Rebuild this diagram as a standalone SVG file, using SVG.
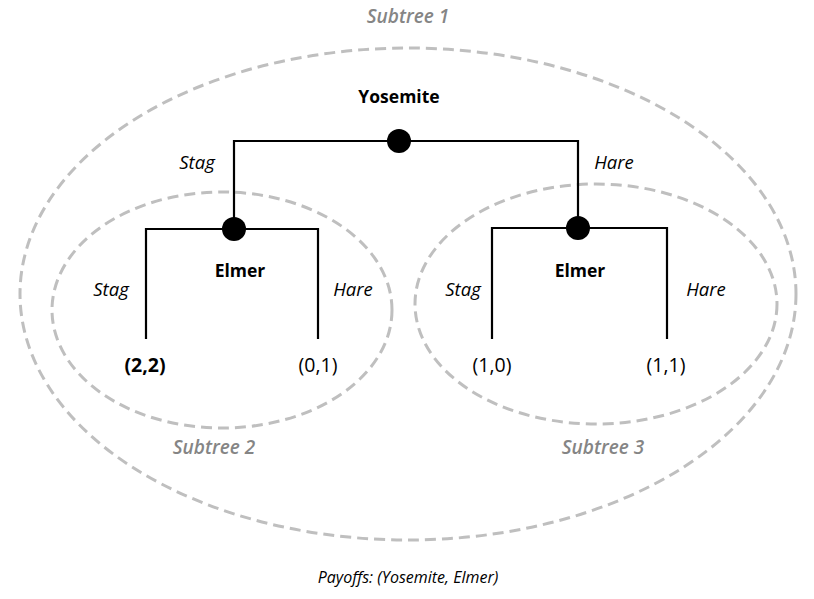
<svg xmlns="http://www.w3.org/2000/svg" width="814" height="599" viewBox="0 0 814 599">
<style>
.sub{fill:none;stroke:#bfbfbf;stroke-width:3;stroke-dasharray:11 6}
.edge{fill:none;stroke:#000;stroke-width:2.2}
.dot{fill:#000}
text{font-family:"Open Sans","Liberation Sans",sans-serif;text-anchor:middle}
.lbl{font-size:18.5px;font-style:italic;fill:#000}
.sublbl{font-size:19px;font-style:italic;font-weight:600;fill:#858585}
.player{font-size:17.5px;font-weight:bold;fill:#000}
.pay{font-size:19.5px;fill:#000}
.note{font-size:16px;font-style:italic;fill:#000}
</style>
<rect width="814" height="599" fill="#fff"/>
<g id="subtrees">
<ellipse id="subtree1" class="sub" cx="408" cy="294" rx="388" ry="246"/>
<ellipse id="subtree2" class="sub" cx="222" cy="310" rx="170" ry="118"/>
<ellipse id="subtree3" class="sub" cx="596" cy="304" rx="181" ry="120"/>
</g>
<g id="connectors">
<path class="edge" d="M234,229 V141 H578 V229"/>
<path class="edge" d="M146,339 V229 H318 V339"/>
<path class="edge" d="M492,339 V228 H667 V339"/>
</g>
<g id="node-yosemite">
<circle class="dot" cx="399" cy="141" r="12"/>
<text class="player" x="399" y="103">Yosemite</text>
</g>
<g id="node-elmer-left">
<circle class="dot" cx="234" cy="229" r="12"/>
<text class="player" x="240" y="277">Elmer</text>
</g>
<g id="node-elmer-right">
<circle class="dot" cx="578" cy="228" r="12"/>
<text class="player" x="580" y="277">Elmer</text>
</g>
<g id="edge-labels">
<text class="lbl" x="197" y="169">Stag</text>
<text class="lbl" x="614" y="169">Hare</text>
<text class="lbl" x="111" y="296">Stag</text>
<text class="lbl" x="353" y="296">Hare</text>
<text class="lbl" x="463" y="296">Stag</text>
<text class="lbl" x="706" y="296">Hare</text>
</g>
<g id="payoffs">
<text class="pay" x="145" y="372" font-weight="bold">(2,2)</text>
<text class="pay" x="318" y="372">(0,1)</text>
<text class="pay" x="492" y="372">(1,0)</text>
<text class="pay" x="666" y="372">(1,1)</text>
</g>
<g id="subtree-labels">
<text class="sublbl" x="408" y="23">Subtree 1</text>
<text class="sublbl" x="214" y="454">Subtree 2</text>
<text class="sublbl" x="603" y="454">Subtree 3</text>
</g>
<text class="note" x="408" y="583">Payoffs: (Yosemite, Elmer)</text>
</svg>
